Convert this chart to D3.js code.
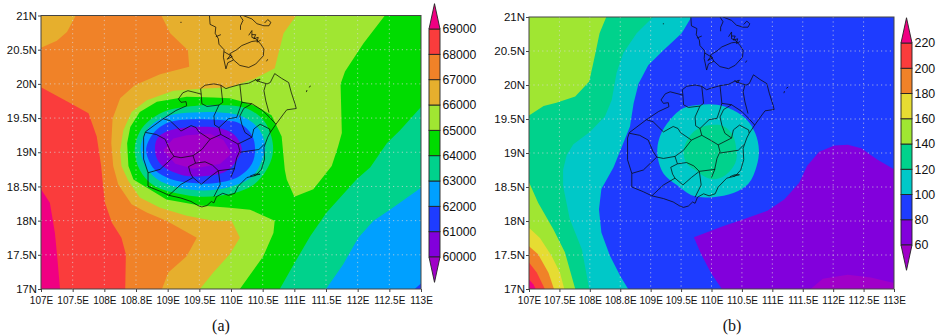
<!DOCTYPE html>
<html><head><meta charset="utf-8">
<script src="https://d3js.org/d3.v7.min.js"></script>
<style>html,body{margin:0;padding:0;background:#fff}svg{display:block}</style>
</head><body><svg id="c" width="941" height="336"></svg>
<script>
// ---- axis labels
const lonTicks=[107,107.5,108,108.5,109,109.5,110,110.5,111,111.5,112,112.5,113];
const lonLabels=["107E","107.5E","108E","108.8E","109E","109.5E","110E","110.5E","111E","111.5E","112E","112.5E","113E"];
const latTicks=[17,17.5,18,18.5,19,19.5,20,20.5,21];
const latLabels=["17N","17.5N","18N","18.5N","19N","19.5N","20N","20.5N","21N"];
// ---- colour levels
const levelsA=[60000,61000,62000,63000,64000,65000,66000,67000,68000,69000];
const levelsB=[60,80,100,120,140,160,180,200,220];
const coloursA=["rgb(160,0,200)","rgb(130,0,220)","rgb(30,60,255)","rgb(0,160,255)","rgb(0,210,140)","rgb(0,220,0)","rgb(160,230,50)","rgb(230,175,45)","rgb(240,130,40)","rgb(250,60,60)","rgb(240,0,130)"];
const coloursB=["rgb(160,0,200)","rgb(130,0,220)","rgb(30,60,255)","rgb(0,200,200)","rgb(0,210,140)","rgb(160,230,50)","rgb(230,220,50)","rgb(240,130,40)","rgb(250,60,60)","rgb(240,0,130)"];
// ---- panel (a) filled contour bands, [lon,lat]
const a66=[[107,21],[111.03,21],[110.83,20.74],[110.69,20.23],[110.38,20.08],[109.98,19.95],[109.51,19.93],[109.09,19.9],[108.67,19.76],[108.43,19.59],[108.3,19.32],[108.25,19.03],[108.27,18.8],[108.38,18.58],[108.56,18.34],[108.88,18.19],[109.3,18.07],[109.72,18],[110.01,18],[110.14,17.75],[109.98,17.51],[109.72,17.24],[109.51,17],[107,17]];
const a67=[[107.55,21],[108.9,21],[109.04,20.74],[109.32,20.49],[109.34,20.25],[108.88,20.14],[108.48,19.98],[108.25,19.79],[108.13,19.49],[108.11,19.13],[108.14,18.8],[108.22,18.53],[108.43,18.24],[108.67,18.12],[108.98,18],[109.46,17.75],[109.3,17.48],[109.01,17.24],[108.91,17],[107,17],[107,20.53],[107.25,20.63],[107.41,20.76]];
const a68=[[107,19.95],[107.48,19.71],[107.75,19.57],[107.88,19.23],[107.95,18.8],[107.98,18.51],[108.01,18.26],[108.12,17.97],[108.27,17.75],[108.34,17.51],[108.33,17],[107,17]];
const a69=[[107,18.46],[107.14,18.26],[107.22,17.82],[107.26,17.43],[107.3,17],[107,17]];
const a64=[[112.43,21],[113,21],[113,17],[110.14,17],[110.51,17.48],[110.67,17.82],[110.69,18],[110.3,18.16],[109.98,18.19],[109.51,18.22],[108.98,18.31],[108.46,18.6],[108.38,18.8],[108.36,19.13],[108.41,19.37],[108.56,19.59],[108.83,19.74],[109.3,19.81],[109.72,19.8],[109.98,19.79],[110.19,19.74],[110.4,19.67],[110.64,19.54],[110.8,19.23],[110.85,18.74],[110.88,18.6],[111,18.35],[111.3,18.46],[111.59,18.8],[111.69,19.08],[111.75,19.28],[111.73,20],[111.8,20.18],[112.09,20.59]];
const a63east=[[113,19.66],[112.67,19.32],[112.46,19.13],[112.2,18.78],[111.98,18.6],[111.51,18.12],[111.25,17.77],[111.01,17.39],[110.77,17],[113,17]];
const a62east=[[113,18.48],[112.51,18.16],[112.25,18],[112.01,17.75],[111.77,17.36],[111.5,17],[113,17]];
const a61east=[[112.9,17],[113,17.08],[113,17]];
const a63low=[[108.48,19.05],[108.56,19.3],[108.72,19.47],[108.93,19.59],[109.25,19.66],[109.83,19.69],[110.25,19.64],[110.51,19.47],[110.64,19.22],[110.66,18.98],[110.56,18.74],[110.35,18.52],[110.04,18.4],[109.56,18.35],[109.14,18.4],[108.77,18.52],[108.56,18.74]];
const a62low=[[108.57,19.05],[108.64,19.27],[108.77,19.42],[109.04,19.54],[109.4,19.58],[109.83,19.58],[110.19,19.52],[110.43,19.35],[110.54,19.1],[110.48,18.86],[110.33,18.64],[109.98,18.49],[109.56,18.44],[109.14,18.49],[108.83,18.61],[108.64,18.81]];
const a61low=[[108.66,19.05],[108.75,19.25],[108.93,19.4],[109.19,19.47],[109.83,19.47],[110.14,19.42],[110.33,19.25],[110.38,19.05],[110.33,18.83],[110.12,18.64],[109.77,18.55],[109.4,18.55],[109.04,18.61],[108.8,18.74],[108.69,18.91]];
const a60low=[[108.8,19.08],[108.85,19.22],[109.04,19.32],[109.4,19.37],[109.83,19.35],[110.06,19.25],[110.17,19.05],[110.09,18.88],[109.9,18.71],[109.56,18.65],[109.25,18.66],[108.93,18.79],[108.83,18.91]];
const a59low=[[108.93,19.03],[109.09,19.2],[109.3,19.25],[109.67,19.27],[109.88,19.18],[110.01,18.98],[109.83,18.83],[109.4,18.76],[109.12,18.83]];
const layersA=[[66000,a66],[67000,a67],[68000,a68],[69000,a69],[64000,a64],[63000,a63east],[62000,a62east],[61000,a61east],[63000,a63low,1],[62000,a62low,1],[61000,a61low,1],[60000,a60low,1],[59000,a59low]];
// ---- panel (b) filled contour bands
const b100=[[109.67,21],[109.51,20.76],[109.21,20.51],[108.96,20.29],[108.8,20.02],[108.72,19.73],[108.66,19.39],[108.39,18.79],[108.19,18.47],[108.15,18.17],[108.19,17.83],[108.33,17.49],[108.5,17.19],[108.63,17],[107,17],[107,21]];
const b120=[[109.04,21],[108.77,20.76],[108.55,20.47],[108.44,20.18],[108.36,19.78],[108.25,19.54],[108,19.31],[107.73,19.13],[107.62,18.97],[107.56,18.75],[107.56,18.52],[107.67,18.03],[107.87,17.58],[107.99,17],[107,17],[107,21]];
const b140top=[[108.27,21],[108.16,20.76],[108.08,20.42],[107.99,20.05],[107.76,19.83],[107.45,19.74],[107.24,19.69],[107,19.55],[107,21]];
const b140low=[[107,18.57],[107.15,18.27],[107.4,17.88],[107.59,17.54],[107.76,17],[107,17]];
const b160=[[107,17.9],[107.18,17.75],[107.37,17.49],[107.51,17.24],[107.58,17],[107,17]];
const b180=[[107,17.63],[107.15,17.51],[107.32,17.24],[107.41,17],[107,17]];
const b200=[[107,17.39],[107.13,17.24],[107.26,17],[107,17]];
const b220=[[107,17.14],[107.07,17.07],[107.11,17],[107,17]];
const b100low=[[109.11,18.99],[109.15,19.24],[109.32,19.49],[109.54,19.66],[109.81,19.71],[110.09,19.71],[110.36,19.63],[110.58,19.49],[110.72,19.29],[110.78,19.04],[110.74,18.8],[110.61,18.55],[110.36,18.41],[110.03,18.35],[109.7,18.37],[109.43,18.53],[109.21,18.7]];
const b120low=[[109.54,19],[109.59,19.17],[109.78,19.36],[110.14,19.41],[110.33,19.29],[110.41,19.04],[110.39,18.85],[110.19,18.65],[109.98,18.62],[109.73,18.75],[109.59,18.85]];
const b60=[[111.57,18.81],[111.77,19.02],[112.02,19.11],[112.24,19.12],[112.46,19.07],[112.73,18.9],[113,18.76],[113,17],[110.17,17],[109.99,17.24],[109.83,17.51],[109.71,17.76],[109.83,17.8],[110.21,17.93],[110.54,18.03],[110.92,18.15],[111.2,18.32],[111.44,18.56]];
const b40=[[111.63,17],[111.83,17.15],[112.24,17.21],[112.62,17.17],[113,17.09],[113,17]];
const layersB=[[100,b100],[120,b120],[140,b140top],[140,b140low],[160,b160],[180,b180],[200,b200],[220,b220],[100,b100low,1],[120,b120low,1],[60,b60],[40,b40]];
// ---- map boundaries, [lon,lat]
const hainan=[[108.65,19.3],[108.93,19.49],[109.13,19.61],[109.3,19.68],[109.29,19.74],[109.21,19.73],[109.17,19.78],[109.24,19.87],[109.32,19.9],[109.45,19.87],[109.53,19.85],[109.52,19.93],[109.59,19.98],[109.73,20],[109.84,19.98],[109.92,19.93],[109.98,19.95],[110.14,19.99],[110.28,20.01],[110.39,20.06],[110.46,20.03],[110.57,20],[110.62,20.02],[110.69,20.15],[110.8,20.08],[110.91,20.02],[110.95,19.88],[111.01,19.71],[111.03,19.64],[110.88,19.62],[110.83,19.56],[110.71,19.41],[110.62,19.29],[110.58,19.22],[110.52,19.07],[110.53,18.9],[110.48,18.75],[110.39,18.66],[110.25,18.63],[110.11,18.5],[110.06,18.4],[109.96,18.37],[109.87,18.4],[109.77,18.35],[109.73,18.26],[109.69,18.28],[109.62,18.22],[109.54,18.2],[109.48,18.22],[109.37,18.28],[109.21,18.33],[109.02,18.37],[108.88,18.43],[108.69,18.5],[108.69,18.7],[108.62,18.9],[108.62,19.22],[108.65,19.3]];
const countyA=[[109.53,19.85],[109.54,19.71],[109.62,19.67],[109.81,19.69],[109.87,19.73],[109.84,19.98]];
const countyB=[[109.81,19.69],[109.73,19.53],[109.74,19.4],[109.81,19.36]];
const countyC=[[110.14,19.99],[110.17,19.73],[110.33,19.71],[110.5,19.61],[110.61,19.51],[110.71,19.41]];
const countyD=[[110.17,19.73],[110.14,19.64],[110.09,19.51],[109.96,19.49],[109.81,19.36],[109.84,19.26],[109.98,19.19],[110.11,19.12],[110.14,19.02],[110.09,18.92],[110.05,18.75],[110,18.64]];
const countyE=[[110.11,19.12],[110.33,19.22],[110.36,19.34],[110.46,19.41],[110.61,19.34],[110.62,19.29]];
const countyF=[[110.33,19.22],[110.22,19.29],[110.17,19.41],[110.14,19.53],[110.2,19.64],[110.33,19.71]];
const countyG=[[110.14,19],[110.44,19.04],[110.53,19.12]];
const countyH=[[108.93,19.49],[109.04,19.46],[109.21,19.31],[109.37,19.39],[109.45,19.36],[109.49,19.3],[109.67,19.19],[109.54,19.04],[109.4,18.95],[109.21,18.92],[109.1,18.94],[108.88,18.75],[108.69,18.7]];
const countyI=[[109.67,19.19],[109.84,19.26]];
const countyJ=[[108.65,19.29],[108.82,19.26],[108.96,19.19],[109.04,19.02],[109.1,18.94]];
const countyK=[[109.4,18.95],[109.44,18.84],[109.33,18.79],[109.36,18.69],[109.4,18.63],[109.53,18.53],[109.67,18.64],[109.8,18.73],[109.71,18.81],[109.59,18.86],[109.44,18.84]];
const countyL=[[109.8,18.73],[110.06,18.76]];
const countyM=[[109.8,18.73],[109.83,18.53],[109.73,18.35]];
const countyN=[[109.4,18.63],[109.21,18.53],[109.02,18.37]];
const countyO=[[110.55,20],[110.52,19.9],[110.55,19.75],[110.6,19.58]];
const leizhou=[[109.66,21],[109.67,20.87],[109.76,20.83],[109.75,20.74],[109.8,20.66],[109.81,20.58],[109.89,20.5],[109.88,20.39],[109.92,20.22],[109.95,20.31],[110.04,20.35],[110.14,20.27],[110.28,20.24],[110.39,20.29],[110.51,20.41],[110.52,20.51],[110.47,20.58],[110.39,20.66],[110.33,20.68],[110.33,20.78],[110.28,20.71]];
const leizhouInner=[[110.04,20.35],[109.98,20.44],[110.09,20.5],[110.17,20.56],[110.33,20.62],[110.41,20.63]];
const leizhouTop1=[[110.14,21],[110.19,20.93],[110.15,20.85],[110.15,20.79]];
const leizhouTop2=[[110.19,21],[110.33,20.95],[110.41,20.88],[110.52,20.85],[110.6,20.85],[110.63,20.9],[110.58,20.94],[110.53,20.89]];
const leizhouBits=[[109.76,20.69],[109.84,20.72]];
const leizhouBits2=[[110.33,20.72],[110.39,20.72],[110.36,20.66],[110.43,20.68],[110.41,20.61],[110.47,20.64]];
const leizhouBits3=[[109.89,20.47],[110.02,20.4],[109.94,20.36],[110,20.43]];
const blob1=[[110.38,20.07],[110.42,20.03],[110.46,20.07],[110.41,20.06]];
const blob2=[[110.3,18.65],[110.38,18.68],[110.46,18.68],[110.36,18.66]];
const islet1=[[110.58,20.36],[110.56,20.33]];
const islet2=[[111.26,19.97],[111.23,19.95]];
const islet3=[[111.2,19.91],[111.19,19.88]];
const islet4=[[109.2,20.9],[109.22,20.9]];
const mapLines=[hainan,countyA,countyB,countyC,countyD,countyE,countyF,countyG,countyH,countyI,countyJ,countyK,countyL,countyM,countyN,countyO,leizhou,leizhouInner,leizhouTop1,leizhouTop2,leizhouBits,leizhouBits2,leizhouBits3,blob1,blob2,islet1,islet2,islet3,islet4];

const svg=d3.select("#c");
function panel(id,box,levels,colours,layers,baseVal,bar,caption){
  const x=d3.scaleLinear().domain([107,113]).range([box.l,box.r]);
  const y=d3.scaleLinear().domain([17,21]).range([box.b,box.t]);
  const col=d3.scaleThreshold().domain(levels).range(colours);
  const path=d3.line().x(d=>x(d[0])).y(d=>y(d[1]));
  const smooth=d3.line().x(d=>x(d[0])).y(d=>y(d[1])).curve(d3.curveCatmullRomClosed.alpha(.5));
  svg.append("clipPath").attr("id",id).append("rect").attr("x",box.l).attr("y",box.t).attr("width",box.r-box.l).attr("height",box.b-box.t);
  const g=svg.append("g").attr("clip-path",`url(#${id})`);
  g.append("rect").attr("x",box.l).attr("y",box.t).attr("width",box.r-box.l).attr("height",box.b-box.t).attr("fill",col(baseVal));
  layers.forEach(([v,ring,s])=>g.append("path").attr("d",s?smooth(ring):path(ring)+"Z").attr("fill",col(v)));
  // grid
  lonTicks.slice(1,-1).forEach(t=>g.append("line").attr("x1",x(t)).attr("x2",x(t)).attr("y1",box.t).attr("y2",box.b).attr("stroke","#d8d8d8").attr("stroke-opacity",.7).attr("stroke-dasharray","1.2 3.2"));
  latTicks.slice(1,-1).forEach(t=>g.append("line").attr("y1",y(t)).attr("y2",y(t)).attr("x1",box.l).attr("x2",box.r).attr("stroke","#d8d8d8").attr("stroke-opacity",.7).attr("stroke-dasharray","1.2 3.2"));
  // map
  mapLines.forEach(l=>g.append("path").attr("d",path(l)).attr("fill","none").attr("stroke","#0b0b0b").attr("stroke-width",.75).attr("stroke-linejoin","round"));
  // frame + axes
  svg.append("rect").attr("x",box.l).attr("y",box.t).attr("width",box.r-box.l).attr("height",box.b-box.t).attr("fill","none").attr("stroke","#444").attr("stroke-width",1);
  const ax=svg.append("g").attr("transform",`translate(0,${box.b})`).call(d3.axisBottom(x).tickValues(lonTicks).tickFormat((d,i)=>lonLabels[i]).tickSize(3).tickPadding(4.5));
  ax.select(".domain").remove();
  ax.selectAll("text").attr("font-family","'Liberation Sans',Arial,sans-serif").attr("font-size",box.xf).attr("fill","#111");
  ax.selectAll("line").attr("stroke","#444");
  const ay=svg.append("g").attr("transform",`translate(${box.l},0)`).call(d3.axisLeft(y).tickValues(latTicks).tickFormat((d,i)=>latLabels[i]).tickSize(3).tickPadding(1));
  ay.select(".domain").remove();
  ay.selectAll("text").attr("font-family","'Liberation Sans',Arial,sans-serif").attr("font-size",box.yf).attr("fill","#111");
  ay.selectAll("line").attr("stroke","#444");
  // colour bar
  const cy=d3.scaleLinear().domain(bar.domain).range(bar.range);
  const step=levels[1]-levels[0], n=levels.length, cb=svg.append("g");
  d3.range(n-1).forEach(i=>cb.append("rect").attr("x",bar.x).attr("width",bar.w).attr("y",cy(levels[i+1])).attr("height",cy(levels[i])-cy(levels[i+1])).attr("fill",colours[i+1]).attr("stroke","#222").attr("stroke-width",.9));
  const mid=bar.x+bar.w/2;
  cb.append("path").attr("d",`M${bar.x},${cy(levels[n-1])}L${mid},${cy(levels[n-1]+step)}L${bar.x+bar.w},${cy(levels[n-1])}Z`).attr("fill",colours[n]).attr("stroke","#222").attr("stroke-width",.9);
  cb.append("path").attr("d",`M${bar.x},${cy(levels[0])}L${mid},${cy(levels[0]-step)}L${bar.x+bar.w},${cy(levels[0])}Z`).attr("fill",colours[0]).attr("stroke","#222").attr("stroke-width",.9);
  levels.forEach(v=>cb.append("text").attr("x",bar.x+bar.w+2.5).attr("y",cy(v)).attr("dy",".36em").attr("font-family","'Liberation Sans',Arial,sans-serif").attr("font-size",bar.fs).attr("fill","#111").text(v));
  svg.append("text").attr("x",caption.x).attr("y",caption.y).attr("text-anchor","middle").attr("font-family","'Liberation Serif','Times New Roman',serif").attr("font-size",16).attr("fill","#111").text(caption.t);
}
panel("pa",{l:41,r:421,t:15.5,b:289,xf:10,yf:11.3},levelsA,coloursA,layersA,65000,
  {x:429,w:11,domain:[60000,69000],range:[257,29],fs:12.2},{x:221,y:331,t:"(a)"});
panel("pb",{l:529,r:894,t:17,b:289,xf:10,yf:11.5},levelsB,coloursB,layersB,90,
  {x:901,w:11,domain:[60,220],range:[245,43],fs:12.4},{x:732,y:331,t:"(b)"});
</script></body></html>
